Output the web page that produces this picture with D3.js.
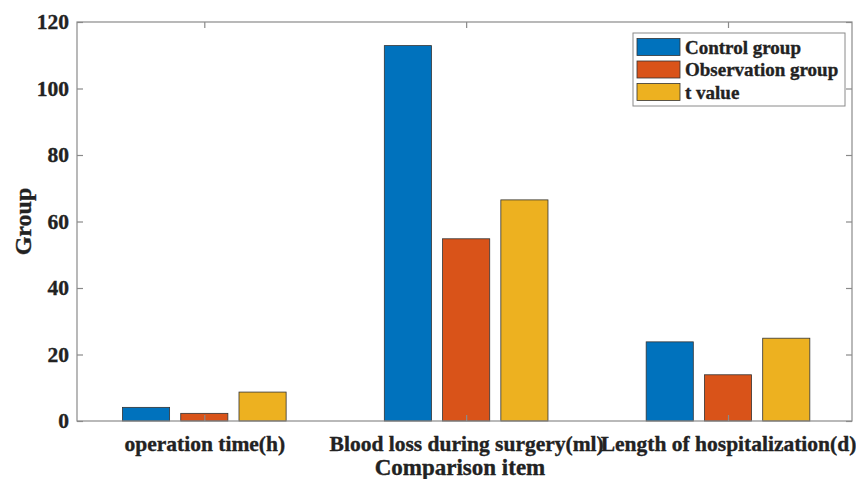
<!DOCTYPE html>
<html>
<head>
<meta charset="utf-8">
<script src="https://cdn.jsdelivr.net/npm/d3@7"></script>
<style>
html,body{margin:0;padding:0;background:#fff;}
svg{display:block;}
text{font-family:"Liberation Serif","Times New Roman",serif;font-weight:bold;fill:#222;stroke:#222;stroke-width:0.35px;}
</style>
</head>
<body>
<svg id="chart" width="856" height="479"></svg>
<script>
const categories = ["operation time(h)", "Blood loss during surgery(ml)", "Length of hospitalization(d)"];
const seriesNames = ["Control group", "Observation group", "t value"];
const controlGroup = [4.1, 112.9, 23.8];
const observationGroup = [2.3, 54.8, 13.9];
const tValue = [8.7, 66.5, 24.9];
const yTicks = [0, 20, 40, 60, 80, 100, 120];
const colors = ["#0072BD", "#D95319", "#EDB120"];

(function () {
const series = [controlGroup, observationGroup, tValue];
const svg = d3.select("#chart");
const pL = 77, pR = 852, pT = 22, pB = 421;
const axisColor = "#8a8a8a";

const x = d3.scaleLinear().domain([0, 2]).range([204.3, 728]);
const step = x(1) - x(0);
const barW = 0.18 * step;
const offs = [-0.2225, 0, 0.2225];
const y = d3.scaleLinear().domain([0, 120]).range([pB, pT]);

// bars
series.forEach((vals, s) => {
  svg.append("g").selectAll("rect").data(vals).join("rect")
    .attr("x", (d, i) => x(i) + offs[s] * step - barW / 2)
    .attr("y", d => y(d))
    .attr("width", barW)
    .attr("height", d => y(0) - y(d))
    .attr("fill", colors[s])
    .attr("stroke", "#333")
    .attr("stroke-width", 0.8);
});

// frame
svg.append("rect").attr("x", pL).attr("y", pT)
  .attr("width", pR - pL).attr("height", pB - pT)
  .attr("fill", "none").attr("stroke", axisColor).attr("stroke-width", 1.2);

const tl = 6;
const gL = svg.append("g").attr("transform", `translate(${pL},0)`)
  .call(d3.axisLeft(y).tickValues(yTicks).tickSize(-tl).tickPadding(8));
const gR = svg.append("g").attr("transform", `translate(${pR},0)`)
  .call(d3.axisRight(y).tickValues(yTicks).tickSize(-tl).tickFormat(""));
const gB = svg.append("g").attr("transform", `translate(0,${pB})`)
  .call(d3.axisBottom(x).tickValues([0, 1, 2]).tickSize(-tl).tickPadding(15)
    .tickFormat(i => categories[i]));
const gT = svg.append("g").attr("transform", `translate(0,${pT})`)
  .call(d3.axisTop(x).tickValues([0, 1, 2]).tickSize(-tl).tickFormat(""));

[gL, gR, gB, gT].forEach(g => {
  g.select(".domain").remove();
  g.selectAll(".tick line").attr("stroke", axisColor).attr("stroke-width", 1.2);
  g.selectAll("text").attr("font-family", "Liberation Serif").attr("font-weight", "bold")
    .attr("font-size", 21.5).attr("fill", "#222");
});

// axis labels
svg.append("text").attr("x", 460).attr("y", 475).attr("text-anchor", "middle")
  .attr("font-size", 23).text("Comparison item");
svg.append("text").attr("transform", `translate(31,${(pT + pB) / 2}) rotate(-90)`)
  .attr("text-anchor", "middle").attr("font-size", 24).text("Group");

// legend
const lg = svg.append("g");
lg.append("rect").attr("x", 633).attr("y", 33).attr("width", 212).attr("height", 73)
  .attr("fill", "#fff").attr("stroke", axisColor).attr("stroke-width", 1);
seriesNames.forEach((n, i) => {
  const cy = 47 + i * 22.5;
  lg.append("rect").attr("x", 637).attr("y", cy - 8.5).attr("width", 43).attr("height", 17)
    .attr("fill", colors[i]).attr("stroke", "#333").attr("stroke-width", 0.8);
  lg.append("text").attr("x", 685).attr("y", cy + 6.5).attr("font-size", 19).text(n);
});
})();
</script>
</body>
</html>
